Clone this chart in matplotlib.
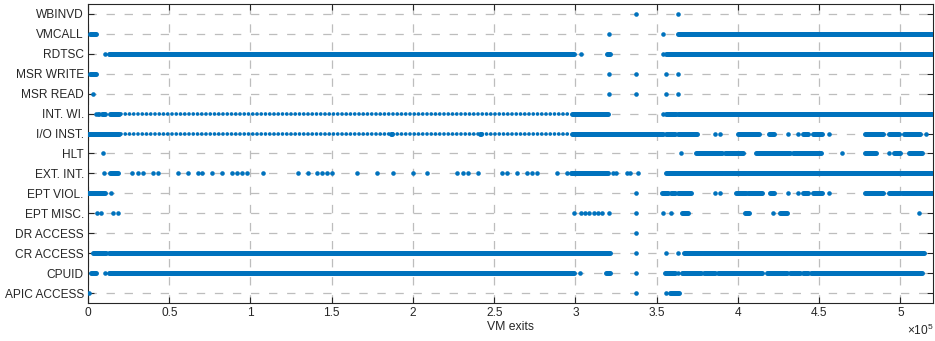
import matplotlib
matplotlib.use('Agg')
import matplotlib.pyplot as plt

plt.rcParams['font.family'] = ['Liberation Sans', 'DejaVu Sans']
plt.rcParams['mathtext.fontset'] = 'custom'
plt.rcParams['mathtext.rm'] = 'Liberation Sans'
plt.rcParams['mathtext.it'] = 'Liberation Sans'
plt.rcParams['lines.scale_dashes'] = False

# exit reasons, bottom to top
categories = ['APIC ACCESS', 'CPUID', 'CR ACCESS', 'DR ACCESS', 'EPT MISC.', 'EPT VIOL.',
              'EXT. INT.', 'HLT', 'I/O INST.', 'INT. WI.', 'MSR READ', 'MSR WRITE',
              'RDTSC', 'VMCALL', 'WBINVD']

# all positions are in units of 1e5 VM exits
# *_runs   : stretches where exits are so close they merge into a bar
# *_dotted : stretches with a steady, sparse rate
# *_pts    : single exits
apic_runs = [(3.58, 3.635)]
apic_pts = [0.006, 3.374, 3.56]

cpuid_runs = [(0.02, 0.05), (0.131, 2.99), (3.19, 3.21), (3.55, 3.61), (3.655, 3.77),
              (3.79, 3.86), (3.875, 4.15), (4.18, 4.30), (4.32, 4.38), (4.40, 4.43),
              (4.45, 5.13)]
cpuid_pts = [0.105, 3.03, 3.374, 3.63]

cr_runs = [(0.033, 0.11), (0.13, 3.214), (3.67, 5.143)]
cr_pts = [3.374, 3.56, 3.63]

dr_pts = [3.374]

ept_misc_runs = [(3.655, 3.69), (4.045, 4.066), (4.26, 4.30)]
ept_misc_pts = [0.053, 0.078, 0.156, 0.187, 2.99, 3.035, 3.056, 3.083, 3.111, 3.138,
                3.165, 3.206, 3.374, 3.536, 3.59, 4.214, 5.113]

ept_viol_runs = [(0.002, 0.105), (3.53, 3.57), (3.59, 3.61), (3.63, 3.71), (3.99, 4.05),
                 (4.06, 4.15), (4.20, 4.22), (4.40, 4.43), (4.46, 4.52), (4.78, 4.89),
                 (4.93, 5.00), (5.01, 5.10), (5.11, 5.2)]
ept_viol_pts = [0.14, 3.372, 3.86, 3.89, 4.31, 4.37, 4.56]

ext_int_runs = [(0.135, 0.187), (2.97, 3.20), (3.557, 5.195)]
ext_int_pts = [0.10, 0.27, 0.306, 0.337, 0.398, 0.43, 0.552, 0.614, 0.675, 0.704, 0.766,
               0.827, 0.889, 0.919, 0.95, 0.981, 1.076, 1.29, 1.353, 1.412, 1.443, 1.473,
               1.504, 1.658, 1.78, 1.874, 1.997, 2.089, 2.27, 2.305, 2.336, 2.397, 2.547,
               2.578, 2.64, 2.701, 2.732, 2.763, 2.886, 2.947, 3.23, 3.25, 3.317, 3.337,
               3.385]

hlt_runs = [(3.74, 3.90), (3.92, 4.03), (4.11, 4.32), (4.34, 4.51), (4.78, 4.85),
            (4.96, 5.00), (5.05, 5.13)]
hlt_pts = [0.09, 3.65, 4.64, 4.93]

io_runs = [(0.0, 0.19), (1.862, 1.87), (2.41, 2.416), (2.98, 3.54), (3.56, 3.61),
           (3.63, 3.75), (4.0, 4.13), (4.19, 4.22), (4.40, 4.43), (4.46, 4.52),
           (4.78, 4.89), (4.93, 4.99), (5.02, 5.12)]
io_dotted = [(0.2, 2.97)]
io_pts = [3.86, 3.89, 4.31, 4.37, 4.56, 5.16]

int_wi_runs = [(0.085, 0.105), (0.135, 0.19), (2.98, 3.20), (3.56, 3.62), (3.63, 5.2)]
int_wi_dotted = [(0.2, 2.97)]
int_wi_pts = [0.047, 0.06, 0.07, 3.54]

msr_read_pts = [0.03, 3.206, 3.372, 3.56, 3.633]

msr_write_runs = [(0.01, 0.05)]
msr_write_pts = [3.206, 3.372, 3.56, 3.633]

rdtsc_runs = [(0.131, 2.99), (3.195, 3.21), (3.557, 5.2)]
rdtsc_pts = [0.105, 3.033, 3.54]

vmcall_runs = [(0.01, 0.05), (3.63, 5.2)]
vmcall_pts = [3.206, 3.54]

wbinvd_pts = [3.372, 3.633]

xticks = [0, 0.5, 1, 1.5, 2, 2.5, 3, 3.5, 4, 4.5, 5]
xtick_labels = ['0', '0.5', '1', '1.5', '2', '2.5', '3', '3.5', '4', '4.5', '5']

# (runs, dotted, points) per category, same order as categories
table = [
    (apic_runs, [], apic_pts),
    (cpuid_runs, [], cpuid_pts),
    (cr_runs, [], cr_pts),
    ([], [], dr_pts),
    (ept_misc_runs, [], ept_misc_pts),
    (ept_viol_runs, [], ept_viol_pts),
    (ext_int_runs, [], ext_int_pts),
    (hlt_runs, [], hlt_pts),
    (io_runs, io_dotted, io_pts),
    (int_wi_runs, int_wi_dotted, int_wi_pts),
    ([], [], msr_read_pts),
    (msr_write_runs, [], msr_write_pts),
    (rdtsc_runs, [], rdtsc_pts),
    (vmcall_runs, [], vmcall_pts),
    ([], [], wbinvd_pts),
]

blue = '#0072BD'
dark = '#262626'

fig = plt.figure(figsize=(9.35, 3.41), dpi=100)
ax = fig.add_axes([88 / 935, 1 - 303 / 341, 845 / 935, 299 / 341])

for i, (runs, dotted, pts) in enumerate(table):
    if runs:
        ax.hlines([i] * len(runs), [r[0] for r in runs], [r[1] for r in runs],
                  colors=blue, lw=3.6, capstyle='round', zorder=3)
    if dotted:
        ax.hlines([i] * len(dotted), [r[0] for r in dotted], [r[1] for r in dotted],
                  colors=blue, lw=2.7, linestyles=[(0, (0.01, 3.05))],
                  capstyle='round', zorder=3)
    if pts:
        ax.plot(pts, [i] * len(pts), 'o', ms=3.3, mew=0, color=blue, zorder=3)

ax.set_xlim(0, 5.2)
ax.set_ylim(-0.5, 14.5)
ax.set_xticks(xticks)
ax.set_xticklabels(xtick_labels)
ax.set_yticks(range(len(categories)))
ax.set_yticklabels(categories)

ax.set_axisbelow(True)
ax.grid(True, color='#bdbdbd', lw=0.9, linestyle=(0, (6, 7)))
ax.tick_params(direction='in', top=True, right=True, length=4, width=0.8,
               colors=dark, labelsize=8.6, pad=3)
for s in ax.spines.values():
    s.set_color(dark)
    s.set_linewidth(0.8)

ax.set_xlabel('VM exits', fontsize=8.8, color=dark, labelpad=1)
fig.text(0.999, 1 - 330 / 341, r'$\times10^{5}$', ha='right', va='center',
         fontsize=8.6, color=dark)

fig.savefig('out.png', dpi=100)
